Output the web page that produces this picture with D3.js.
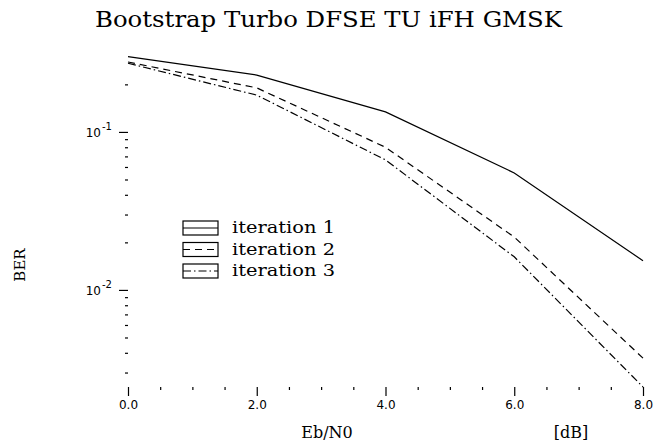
<!DOCTYPE html>
<html>
<head>
<meta charset="utf-8">
<script src="https://cdn.jsdelivr.net/npm/d3@7"></script>
<style>
  body { margin: 0; background: #fff; }
  svg { display: block; }
  .tick text { font-family: "DejaVu Sans", sans-serif; font-size: 12px; fill: #000; }
</style>
</head>
<body>
<div id="chart"></div>
<script>
// ---- data ----
var ebn0 = [0, 2, 4, 6, 8];
var iter1 = [0.300, 0.229, 0.134, 0.055, 0.0153];
var iter2 = [0.277, 0.190, 0.080, 0.0216, 0.0037];
var iter3 = [0.272, 0.171, 0.0665, 0.0162, 0.00243];
var seriesNames = ["iteration 1", "iteration 2", "iteration 3"];
var xMajor = [0, 2, 4, 6, 8];
var yMajor = [0.1, 0.01];
var yMajorLabels = ["-1", "-2"];
var yDomain = [0.00243, 0.3];

// ---- setup ----
var W = 657, H = 446;
var svg = d3.select("#chart").append("svg")
    .attr("width", W).attr("height", H);

var x = d3.scaleLinear().domain([0, 8]).range([128, 643]);
var decade = 158;
var yBottom = 387;
var yTop = yBottom - (Math.log10(yDomain[1]) - Math.log10(yDomain[0])) * decade;
var y = d3.scaleLog().domain(yDomain).range([yBottom, yTop]);

var dashes = [null, "7,5", "8,3,1.5,3"];

// title
svg.append("text")
    .attr("x", 95).attr("y", 27)
    .attr("textLength", 467).attr("lengthAdjust", "spacingAndGlyphs")
    .style("font-family", "'DejaVu Serif', serif")
    .style("font-size", "23px")
    .text("Bootstrap Turbo DFSE TU iFH GMSK");

// x axis: major + minor ticks, no domain line
var xMinor = d3.range(0, 8.01, 0.5).filter(function(v) { return v % 2 !== 0; });
svg.append("g")
    .attr("transform", "translate(0," + yBottom + ")")
    .call(d3.axisBottom(x).tickValues(xMajor).tickSize(9).tickPadding(4)
        .tickFormat(d3.format(".1f")))
    .call(function(g) { g.select(".domain").remove(); });
svg.append("g")
    .attr("transform", "translate(0," + yBottom + ")")
    .call(d3.axisBottom(x).tickValues(xMinor).tickSize(3).tickFormat(""))
    .call(function(g) { g.select(".domain").remove(); });

// y axis: log ticks
var yMinor = [];
[0.001, 0.01, 0.1].forEach(function(p) {
    for (var k = 2; k <= 9; k++) {
        var v = k * p;
        if (v >= yDomain[0] && v < 0.25) yMinor.push(v);
    }
});
svg.append("g")
    .attr("transform", "translate(128,0)")
    .call(d3.axisLeft(y).tickValues(yMajor).tickSize(9).tickFormat(""))
    .call(function(g) { g.select(".domain").remove(); });
svg.append("g")
    .attr("transform", "translate(128,0)")
    .call(d3.axisLeft(y).tickValues(yMinor).tickSize(3).tickFormat(""))
    .call(function(g) { g.select(".domain").remove(); });

svg.selectAll(".tick line").attr("stroke", "#000").attr("stroke-width", 1.2);

// y tick labels 10^-n
var ylab = svg.append("g");
yMajor.forEach(function(v, i) {
    ylab.append("text")
        .attr("x", 101).attr("y", y(v) + 5)
        .attr("text-anchor", "end")
        .style("font-family", "'DejaVu Sans', sans-serif")
        .style("font-size", "12px")
        .text("10");
    ylab.append("text")
        .attr("x", 102).attr("y", y(v) - 2)
        .style("font-family", "'DejaVu Sans', sans-serif")
        .style("font-size", "10px")
        .text(yMajorLabels[i]);
});

// axis titles
svg.append("text")
    .attr("x", 327).attr("y", 438)
    .attr("text-anchor", "middle")
    .style("font-family", "'DejaVu Serif', serif")
    .style("font-size", "16px")
    .text("Eb/N0");
svg.append("text")
    .attr("x", 571).attr("y", 438)
    .attr("text-anchor", "middle")
    .style("font-family", "'DejaVu Serif', serif")
    .style("font-size", "16px")
    .text("[dB]");
svg.append("text")
    .attr("transform", "translate(25,265) rotate(-90)")
    .attr("text-anchor", "middle")
    .style("font-family", "'DejaVu Serif', serif")
    .style("font-size", "15px")
    .text("BER");

// curves
var line = d3.line()
    .x(function(d) { return x(d[0]); })
    .y(function(d) { return y(d[1]); });

[iter1, iter2, iter3].forEach(function(s, i) {
    svg.append("path")
        .datum(ebn0.map(function(e, j) { return [e, s[j]]; }))
        .attr("d", line)
        .attr("fill", "none")
        .attr("stroke", "#000")
        .attr("stroke-width", 1.2)
        .attr("stroke-dasharray", dashes[i]);
});

// legend
var legY = [228, 249.5, 271];
var leg = svg.append("g");
seriesNames.forEach(function(name, i) {
    leg.append("rect")
        .attr("x", 183).attr("y", legY[i] - 7)
        .attr("width", 35).attr("height", 14)
        .attr("fill", "none").attr("stroke", "#000").attr("stroke-width", 1.2);
    leg.append("line")
        .attr("x1", 183).attr("x2", 218)
        .attr("y1", legY[i]).attr("y2", legY[i])
        .attr("stroke", "#000").attr("stroke-width", 1.2)
        .attr("stroke-dasharray", dashes[i]);
    leg.append("text")
        .attr("x", 232).attr("y", legY[i] + 5)
        .attr("textLength", 103).attr("lengthAdjust", "spacingAndGlyphs")
        .style("font-family", "'DejaVu Serif', serif")
        .style("font-size", "16px")
        .text(name);
});
</script>
</body>
</html>
